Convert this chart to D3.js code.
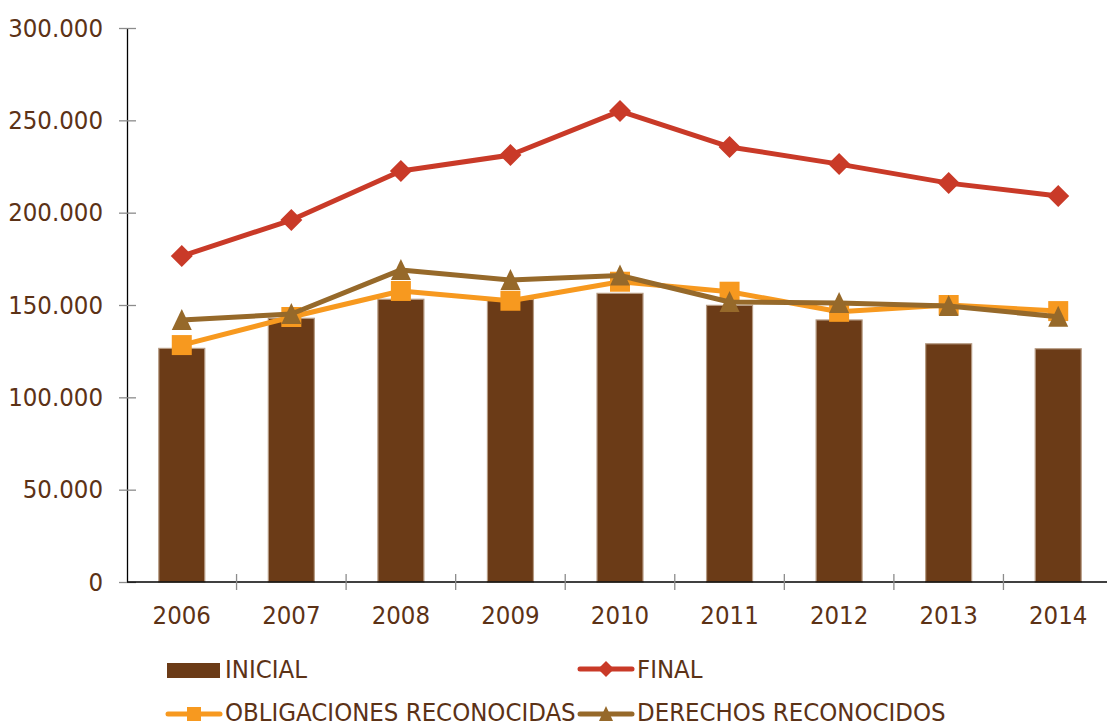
<!DOCTYPE html>
<html><head><meta charset="utf-8">
<script src="https://cdn.jsdelivr.net/npm/d3@7"></script>
<style>
html,body{margin:0;padding:0;background:#fff;}
svg{display:block;}
text{font-family:"DejaVu Sans Condensed","DejaVu Sans",sans-serif;fill:#5c3216;}
</style></head><body>
<svg id="c" width="1107" height="727"></svg>
<script>
const years = ["2006","2007","2008","2009","2010","2011","2012","2013","2014"];
const inicial = [126500,142800,153100,153000,156300,149800,141900,129000,126300];
const finalV = [176500,196000,222600,231200,255000,235600,226300,216000,209000];
const obligaciones = [128300,143500,157600,152300,162600,157200,146300,150000,146700];
const derechos = [141900,145100,169000,163500,166000,151600,151100,149500,143600];
const yTicks = [0,50000,100000,150000,200000,250000,300000];
const legendLabels = ["INICIAL","FINAL","OBLIGACIONES RECONOCIDAS","DERECHOS RECONOCIDOS"];

const svg = d3.select("#c");
const x = d3.scaleBand().domain(years).range([127,1113]);
const y = d3.scaleLinear().domain([0,300000]).range([582,28]);
const fmt = v => d3.format(",")(v).replace(/,/g,".");
const FS = 25.5;

const C = {bar:"#6b3b17", barEdge:"#b59a82", fin:"#c93a28", obl:"#f7991f", der:"#96692a", tick:"#8c8c8c"};

// bars
const bw = 46;
svg.append("g").selectAll("rect").data(years).join("rect")
  .attr("x", d => x(d)+x.bandwidth()/2-bw/2)
  .attr("y", (d,i) => y(inicial[i]))
  .attr("width", bw)
  .attr("height", (d,i) => y(0)-y(inicial[i]))
  .attr("fill", C.bar).attr("stroke", C.barEdge).attr("stroke-width",1.2);

// y axis
const yAxis = d3.axisLeft(y).tickValues(yTicks).tickFormat(fmt).tickSize(0).tickPadding(24);
const gy = svg.append("g").attr("transform","translate(127,0)").call(yAxis);
gy.select(".domain").attr("stroke","#000").attr("stroke-width",1.3);
gy.selectAll(".tick text").attr("font-size",FS).attr("fill","#5c3216").attr("font-family",null);
gy.selectAll(".tick").append("line").attr("x1",-8).attr("x2",9).attr("stroke",C.tick).attr("stroke-width",1.3);

// x axis
svg.append("line").attr("x1",127).attr("x2",1107).attr("y1",y(0)).attr("y2",y(0)).attr("stroke","#000").attr("stroke-width",1.5);
svg.append("g").selectAll("line").data(years.slice(1)).join("line")
  .attr("x1", d => x(d)).attr("x2", d => x(d)).attr("y1", y(0)-8).attr("y2", y(0)+8)
  .attr("stroke", C.tick).attr("stroke-width",1.3);
svg.append("g").selectAll("text").data(years).join("text")
  .attr("x", d => x(d)+x.bandwidth()/2).attr("y", 624)
  .attr("text-anchor","middle").attr("font-size",FS).text(d => d);

// markers
function diamond(s){return `M0,${-s}L${s},0L0,${s}L${-s},0Z`;}
function square(s){return `M${-s},${-s}H${s}V${s}H${-s}Z`;}
function triangle(s){return `M0,${-s-1}L${s},${s}L${-s},${s}Z`;}

const cx = d => x(d)+x.bandwidth()/2;
function series(vals, color, shape, size){
  const line = d3.line().x((v,i)=>cx(years[i])).y(v=>y(v));
  svg.append("path").datum(vals).attr("d", line).attr("fill","none")
    .attr("stroke", color).attr("stroke-width",5).attr("stroke-linejoin","round");
  svg.append("g").selectAll("path").data(vals).join("path")
    .attr("transform",(v,i)=>`translate(${cx(years[i])},${y(v)})`)
    .attr("d", shape(size)).attr("fill", color);
}
series(finalV, C.fin, diamond, 11);
series(obligaciones, C.obl, square, 10);
series(derechos, C.der, triangle, 10);

// legend
const lg = svg.append("g");
lg.append("rect").attr("x",167).attr("y",663).attr("width",53).attr("height",15).attr("fill",C.bar);
lg.append("text").attr("x",225).attr("y",678).attr("font-size",FS).text(legendLabels[0]);

function legLine(x1,x2,yy,ty,color,shape,size,label){
  lg.append("line").attr("x1",x1).attr("x2",x2).attr("y1",yy).attr("y2",yy)
    .attr("stroke",color).attr("stroke-width",5).attr("stroke-linecap","round");
  lg.append("path").attr("transform",`translate(${(x1+x2)/2},${yy})`).attr("d",shape(size)).attr("fill",color);
  lg.append("text").attr("x",x2+5).attr("y",ty).attr("font-size",FS).text(label);
}
legLine(580,632,669,678,C.fin,diamond,8,legendLabels[1]);
legLine(168,220,714,721,C.obl,square,7,legendLabels[2]);
legLine(580,632,714,721,C.der,triangle,7,legendLabels[3]);
</script>
</body></html>
